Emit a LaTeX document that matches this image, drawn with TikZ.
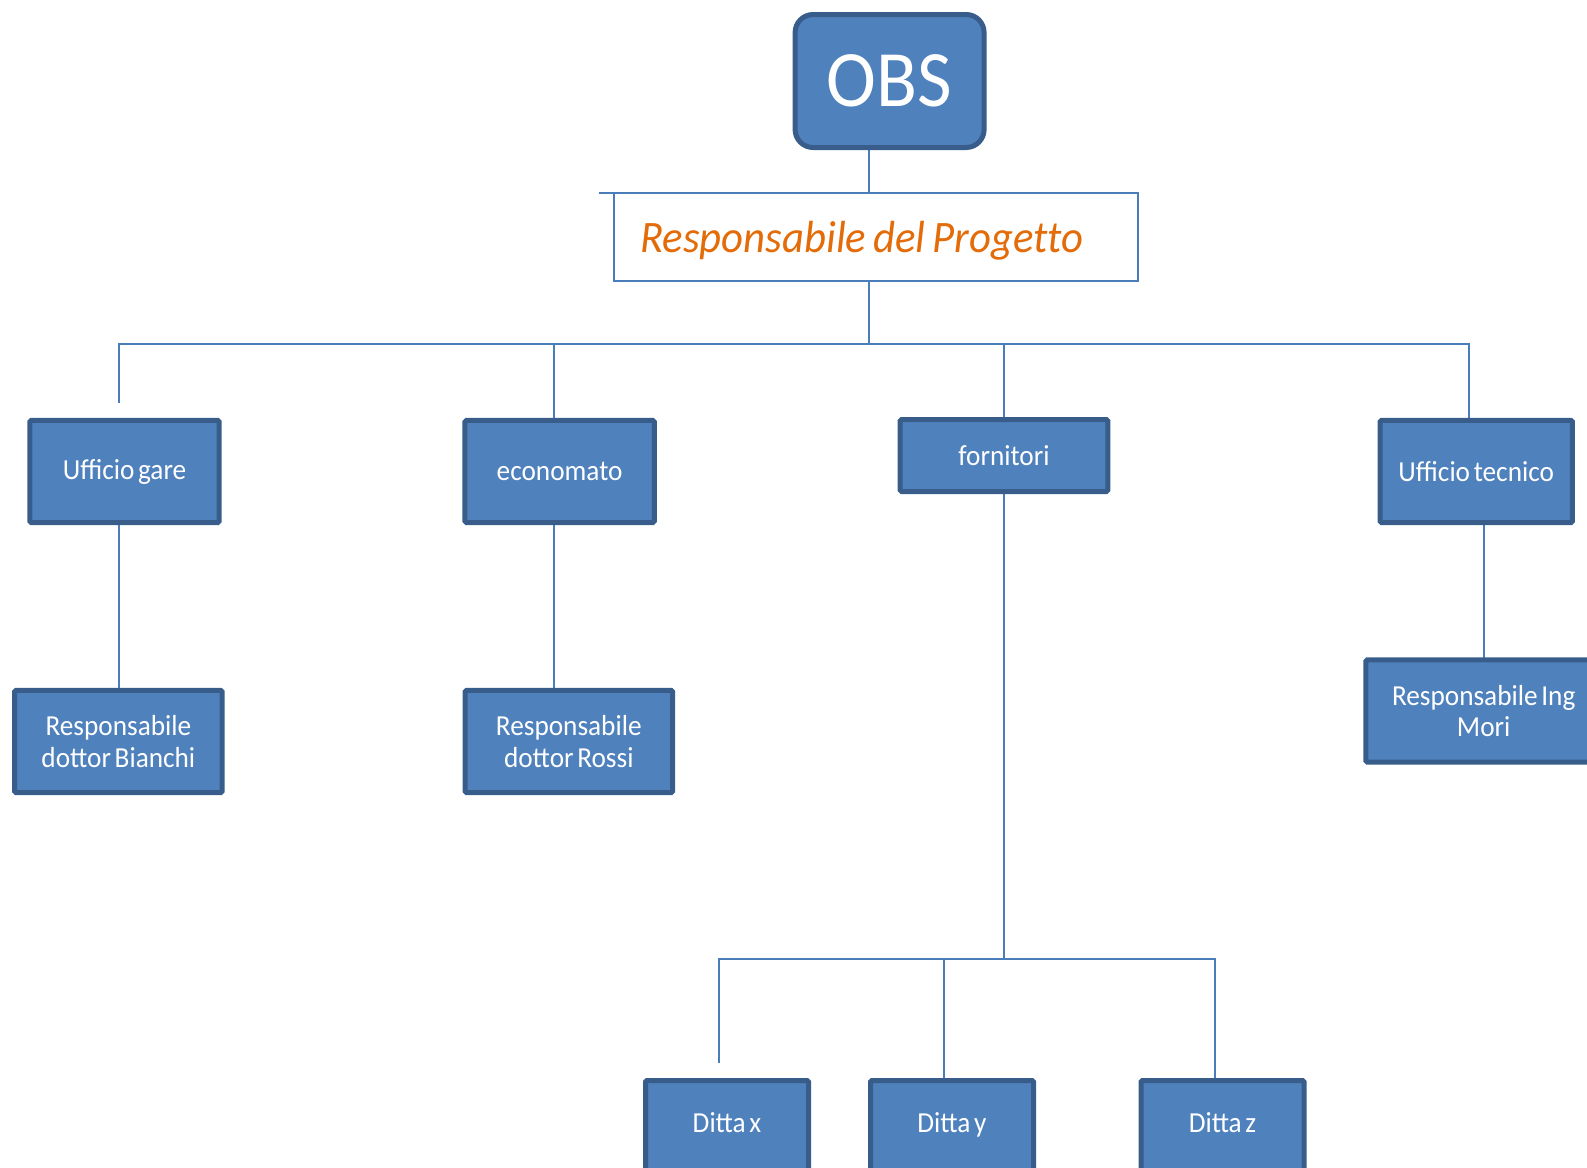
\documentclass[tikz,border=0pt]{standalone}
\usepackage{fontspec}
\setmainfont{Carlito}[FakeStretch=0.94, WordSpace=0.6]
\newfontfamily\respfont{Carlito}[FakeStretch=0.95, Ligatures=NoCommon]
\usetikzlibrary{calc}
\pgfdeclarelayer{background}
\pgfsetlayers{background,main}
\definecolor{boxfill}{HTML}{4F81BD}
\definecolor{boxline}{HTML}{385D8A}
\definecolor{connc}{HTML}{4A7EBB}
\definecolor{orangetxt}{HTML}{E36C09}
\begin{document}
\begin{tikzpicture}[x=1pt,y=-1pt,
  orgbox/.style={draw=boxline, fill=boxfill, line width=5pt, rounded corners=1.5pt,
    text=white, inner sep=0pt, outer sep=0pt, align=center,
    font=\fontsize{29}{31.4}\selectfont},
  dtext/.style={text=white, inner sep=0pt, anchor=base, font=\fontsize{29}{31.4}\selectfont},
  conn/.style={draw=connc, line width=2pt}]
\useasboundingbox (0,0) rectangle (1587,1167);
\clip (0,0) rectangle (1587,1167);

% top
\node[orgbox, minimum width=189pt, minimum height=133pt, rounded corners=18pt,
  font=\fontsize{80}{80}\selectfont] (obs) at (889.6,81) {OBS};
\node[draw=connc, line width=2pt, fill=white, text=orangetxt,
  font=\respfont\itshape\fontsize{45}{47}\selectfont, inner xsep=26pt, inner ysep=0pt,
  text width=471.3pt, text height=31pt, text depth=0.2pt,
  minimum height=88pt, align=left, anchor=west, outer sep=0pt]
  (resp) at (614.3,237.3) {Responsabile\hspace{7pt}del\hspace{7pt}Progetto};

% second level
\node[orgbox, minimum width=189.3pt, minimum height=102.3pt] (gare) at (124.5,471.5) {Ufficio gare};
\node[orgbox, minimum width=189.3pt, minimum height=102.3pt] (econ) at (559.6,471.5) {economato};
\node[orgbox, minimum width=207.6pt, minimum height=72pt] (forn) at (1004,455.5) {fornitori};
\node[orgbox, minimum width=192.4pt, minimum height=102.3pt] (tecn) at (1476.2,471.5) {Ufficio tecnico};

% third level
\node[orgbox, minimum width=207.6pt, minimum height=102.3pt] (bianchi) at (118.4,741.5) {Responsabile\\dottor Bianchi};
\node[orgbox, minimum width=207.6pt, minimum height=102.3pt] (rossi) at (568.8,741.5) {Responsabile\\dottor Rossi};
\node[orgbox, minimum width=235.8pt, minimum height=102.3pt] (mori) at (1483.7,711) {Responsabile Ing\\Mori};

% ditte
\node[orgbox, minimum width=163pt, minimum height=102pt, anchor=north] (dx) at (727,1080.5) {};
\node[orgbox, minimum width=163pt, minimum height=102pt, anchor=north] (dy) at (952,1080.5) {};
\node[orgbox, minimum width=163pt, minimum height=102pt, anchor=north] (dz) at (1222.5,1080.5) {};
\node[dtext] (dxt) at (727,1132) {Ditta x};
\node[dtext] (dyt) at (952,1132) {Ditta y};
\node[dtext] (dzt) at (1222.5,1132) {Ditta z};

% connectors
\begin{pgfonlayer}{background}
\coordinate (t1) at (869.4,344.1);
\coordinate (gfree) at (119.4,402.8);
\coordinate (t2) at (1004,958.5);
\coordinate (xfree) at (718.6,1062.7);
\draw[conn] (obs.south -| t1) -- (resp.north -| t1);
\draw[conn] (resp.north west) -- ++(-15,0);
\draw[conn] (resp.south -| t1) -- (t1);
\draw[conn] (gfree) |- (t1);
\draw[conn] (t1) -| ([xshift=-7.6pt]tecn.north);
\draw[conn] ([xshift=-6pt]econ.north) -- ([xshift=-6pt]econ.north |- t1);
\draw[conn] (forn.north) -- (forn.north |- t1);
\draw[conn] ([xshift=-5.1pt]gare.south) -- ([xshift=-5.1pt]gare.south |- bianchi.north);
\draw[conn] ([xshift=-6pt]econ.south) -- ([xshift=-6pt]econ.south |- rossi.north);
\draw[conn] ([xshift=7.5pt]tecn.south) -- ([xshift=7.5pt]tecn.south |- mori.north);
\draw[conn] (forn.south) -- (t2);
\draw[conn] (xfree) |- (t2);
\draw[conn] (t2) -| ([xshift=-8pt]dz.north);
\draw[conn] ([xshift=-7.7pt]dy.north) -- ([xshift=-7.7pt]dy.north |- t2);
\end{pgfonlayer}
\end{tikzpicture}
\end{document}
